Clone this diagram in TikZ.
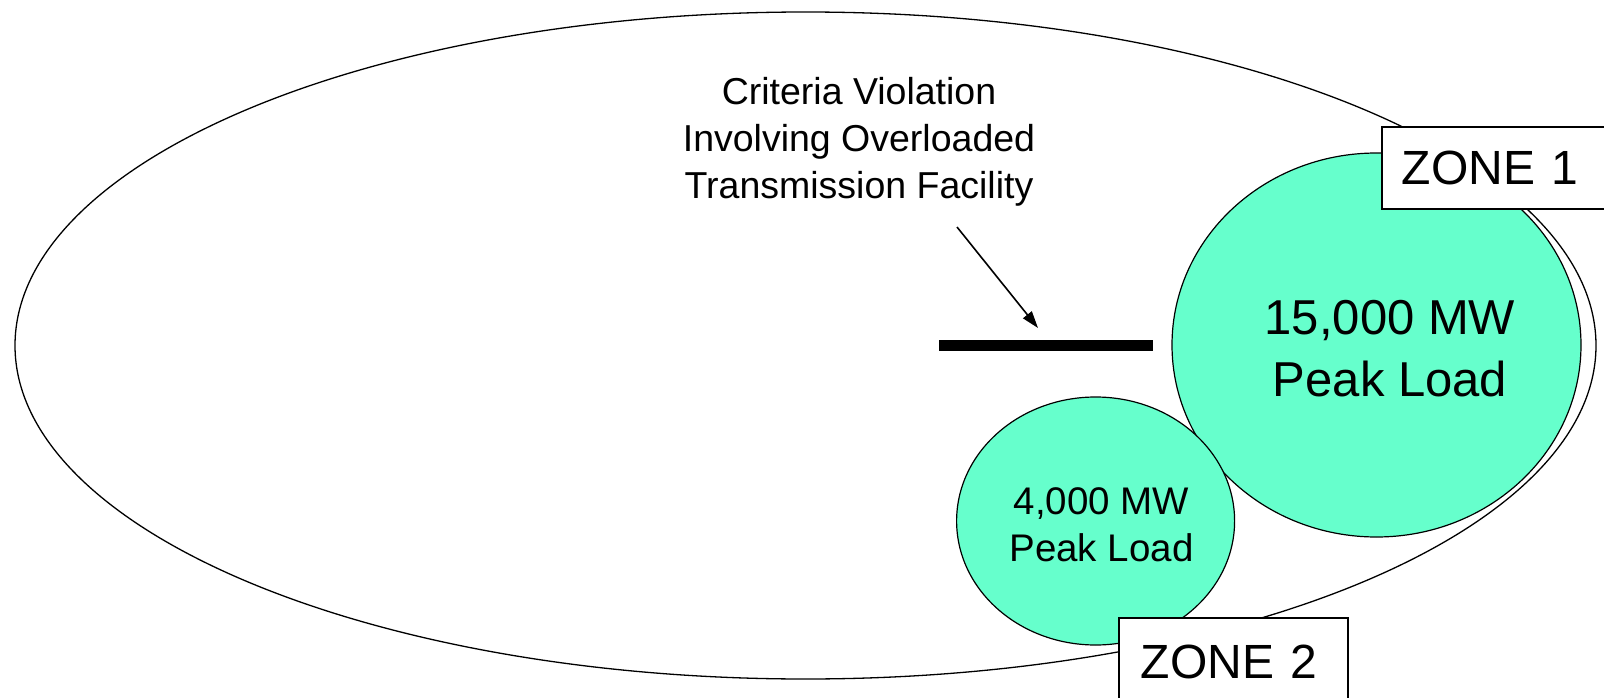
\documentclass[tikz,border=0pt]{standalone}
\usepackage{fontspec}
\setmainfont{Liberation Sans}
\usetikzlibrary{arrows.meta,shapes.geometric}
\definecolor{loadfill}{HTML}{66FFCC}

\tikzset{
  area/.style={ellipse, draw=black, line width=1.3pt, inner sep=0pt},
  loadarea/.style={ellipse, draw=black, fill=loadfill, line width=1.2pt, inner sep=0pt},
  zonebox/.style={rectangle, draw=black, fill=white, line width=1.8pt,
    anchor=north west, align=left, inner ysep=0pt,
    font=\fontsize{48}{58}\selectfont},
  caption/.style={align=center, inner sep=0pt},
  facility/.style={line width=11pt},
  pointer/.style={line width=1.6pt, -{Triangle[length=17pt,width=11pt]}}
}

\begin{document}
\begin{tikzpicture}[x=1pt, y=-1pt]
  \useasboundingbox (0,0) rectangle (1604,698);
  \clip (0,0) rectangle (1604,698);

  % control area boundary
  \node[area, minimum width=1581pt, minimum height=667pt] (ctrl) at (805.5,345.5) {};

  % load zones
  \node[loadarea, minimum width=409pt, minimum height=384pt] (z1load) at (1376.5,345) {};
  \node[loadarea, minimum width=278pt, minimum height=248pt] (z2load) at (1095.6,521) {};

  \node[caption, font=\fontsize{49}{62}\selectfont] (z1text) at (1390,349)
    {15,000 MW\\Peak Load};
  \node[caption, font=\fontsize{38.5}{47}\selectfont] (z2text) at (1101.5,524.5)
    {4,000 MW\\Peak Load};

  % overloaded transmission facility
  \coordinate (barL) at (939,345);
  \coordinate (barR) at (1153,345);
  \draw[facility] (barL) -- (barR);

  \node[caption, font=\fontsize{37.5}{47}\selectfont] (note) at (859,142)
    {Criteria Violation\\Involving Overloaded\\Transmission Facility};
  \coordinate (ptrStart) at (957,227);
  \coordinate (ptrTip) at (1038,328);
  \draw[pointer] (ptrStart) -- (ptrTip);

  % zone labels
  \node[zonebox, inner xsep=20pt, text width=210pt, minimum height=82pt] (zone1) at (1381,126) {ZONE 1};
  \node[zonebox, inner xsep=22pt, text width=185pt, minimum height=88pt] (zone2) at (1118,617) {ZONE 2};
\end{tikzpicture}
\end{document}
